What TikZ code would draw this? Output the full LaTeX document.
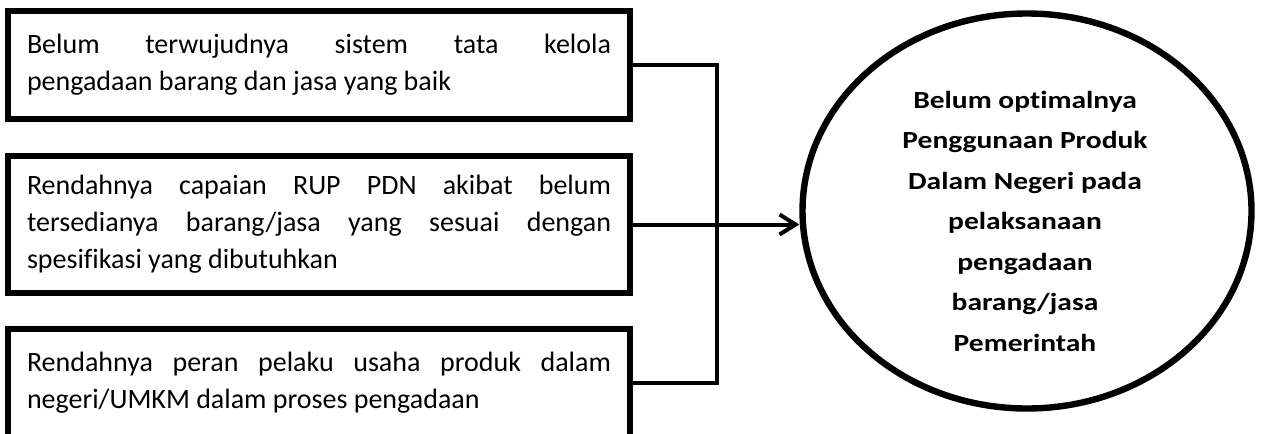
\documentclass[tikz,border=0pt]{standalone}
\usepackage{fontspec}
\setmainfont[Ligatures=NoCommon]{Carlito}
\newfontfamily\circfont[FakeStretch=1.2,Ligatures=NoCommon]{Carlito}
\usetikzlibrary{shapes.geometric,arrows.meta}
\hyphenpenalty=10000
\exhyphenpenalty=10000
\tolerance=10000
\begin{document}
\begin{tikzpicture}[x=0.5pt,y=-0.5pt,
  boxnode/.style={draw, line width=3.2pt, rectangle, text width=292pt,
    inner xsep=9.5pt, inner ysep=0pt, align=justify,
    font=\fontsize{14pt}{18.5pt}\selectfont},
  conn/.style={line width=2pt},
  tip/.style={-{Straight Barb[length=8pt,width=10pt,line width=2pt]}},
  ringnode/.style={ellipse, draw, line width=3.2pt, inner sep=0pt,
    minimum width=224.5pt, minimum height=197.5pt},
  ringtext/.style={align=center, inner sep=0pt,
    font=\circfont\bfseries\fontsize{12.3pt}{20.25pt}\selectfont}]
\useasboundingbox (0,0) rectangle (1261,433);
\clip (0,0) rectangle (1261,433);

\node[boxnode, minimum height=53.75pt] (b1) at (319,65)
  {\leftskip=4.5pt Belum terwujudnya sistem tata kelola\linebreak pengadaan barang dan jasa yang baik};
\node[boxnode, minimum height=68.5pt] (b2) at (319,224.5)
  {\leftskip=4.5pt Rendahnya capaian RUP PDN akibat belum\linebreak tersedianya barang/jasa yang sesuai dengan\linebreak spesifikasi yang dibutuhkan};
\node[boxnode, minimum height=54pt] (b3) at (319,383)
  {\leftskip=4.5pt Rendahnya peran pelaku usaha produk dalam\linebreak negeri/UMKM dalam proses pengadaan};

\node[ringnode] (c) at (1027,211) {};
\node[ringtext] (ct) at (1025,221)
  {Belum optimalnya\\Penggunaan Produk\\Dalam Negeri pada\\pelaksanaan\\pengadaan\\barang/jasa\\Pemerintah};

\coordinate (j) at (717,0);
\draw[conn] (b1.east) -| (j |- b2.east) |- (b3.east);
\draw[conn,tip] (b2.east) -- (b2.east -| c.west);
\end{tikzpicture}
\end{document}
